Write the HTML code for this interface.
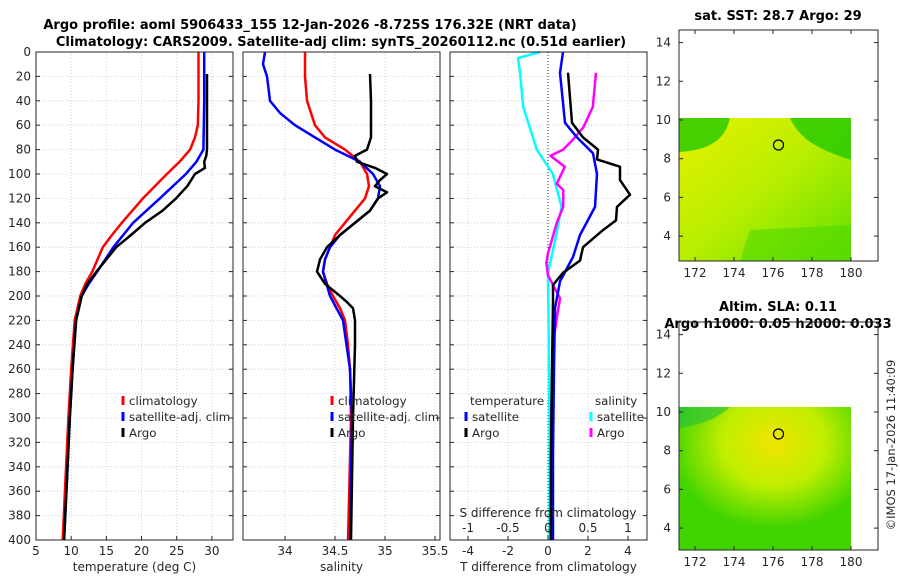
<!DOCTYPE html>
<html><head><meta charset="utf-8"><style>
body{margin:0;background:#fff;}
svg{font-family:"DejaVu Sans","Liberation Sans",sans-serif;}
</style></head><body>
<svg id="c" width="900" height="580" xmlns="http://www.w3.org/2000/svg">
<defs>
<linearGradient id="m1" x1="0" y1="0" x2="1" y2="1">
<stop offset="0" stop-color="#e8f000"/><stop offset="0.5" stop-color="#b8ee00"/><stop offset="1" stop-color="#60e000"/></linearGradient>
<radialGradient id="m2" cx="0.55" cy="0.25" r="0.6"><stop offset="0" stop-color="#f0e400"/><stop offset="0.5" stop-color="#c0ee00"/><stop offset="1" stop-color="#40d400"/></radialGradient>
</defs>
<text x="310" y="29" text-anchor="middle" font-weight="bold" font-size="13">Argo profile: aoml 5906433_155 12-Jan-2026 -8.725S 176.32E (NRT data)</text>
<text x="341" y="46" text-anchor="middle" font-weight="bold" font-size="13">Climatology: CARS2009. Satellite-adj clim: synTS_20260112.nc (0.51d earlier)</text>
<g id="maps">
<text x="778" y="20" text-anchor="middle" font-weight="bold" font-size="13">sat. SST: 28.7 Argo: 29</text>
<rect x="679" y="118" width="172" height="143" fill="url(#m1)"/>
<path d="M679,118 L851,118 L851,160 C820,150 800,140 790,118 Z" fill="#20c800" opacity="0.8"/>
<path d="M679,118 L730,118 C725,140 710,150 679,152 Z" fill="#20c800" opacity="0.8"/>
<path d="M750,230 L851,225 L851,261 L740,261 Z" fill="#50d800" opacity="0.6"/>
<circle cx="778.5" cy="145" r="5" fill="none" stroke="#000" stroke-width="1.2"/>
<rect x="679" y="30" width="199" height="231" fill="none" stroke="#262626"/>
<text x="778" y="311" text-anchor="middle" font-weight="bold" font-size="13">Altim. SLA: 0.11</text>
<text x="778" y="328" text-anchor="middle" font-weight="bold" font-size="13">Argo h1000: 0.05 h2000: 0.033</text>
<rect x="679" y="407" width="172" height="143" fill="url(#m2)"/>
<path d="M679,407 L730,407 C715,420 700,425 679,428 Z" fill="#20c040" opacity="0.6"/>
<circle cx="778.5" cy="434" r="5" fill="none" stroke="#000" stroke-width="1.2"/>
<rect x="679" y="322" width="199" height="228" fill="none" stroke="#262626"/>
<text transform="translate(895,445) rotate(-90)" text-anchor="middle" font-size="11.5" fill="#262626">©IMOS 17-Jan-2026 11:40:09</text>
</g>
</svg>
<script>
const depthTicks=[0,20,40,60,80,100,120,140,160,180,200,220,240,260,280,300,320,340,360,380,400];
const tTicks=[5,10,15,20,25,30];
const sTicks=[34,34.5,35,35.5];
const dTicks=[-4,-2,0,2,4];
const dsTickLabels=["-1","-0.5","0","0.5","1"];
const climTdep=[0,20,40,60,70,80,90,100,120,140,150,160,180,190,200,220,260,300,350,400];
const climT=[28.1,28.1,28.1,28.0,27.6,26.9,25.4,23.6,20.2,17.2,15.8,14.5,13.0,12.0,11.3,10.5,10.0,9.6,9.2,8.8];
const satTdep=[0,20,40,60,80,90,100,120,140,160,180,190,200,220,260,300,350,400];
const satT=[28.9,28.9,28.9,28.85,28.8,27.8,26.3,22.6,18.8,16.0,13.7,12.5,11.5,10.7,10.2,9.8,9.4,9.0];
const argoTdep=[18,40,60,80,85,90,95,100,110,120,130,140,150,160,170,180,190,200,220,260,300,350,400];
const argoT=[29.3,29.3,29.3,29.3,29.2,28.9,29.0,27.6,26.5,24.9,23.0,20.5,18.5,16.4,15.0,13.6,12.3,11.5,10.7,10.2,9.8,9.4,9.0];
const climSdep=[0,20,40,60,70,80,90,100,110,120,130,140,150,160,170,180,190,200,210,220,240,260,300,400];
const climS=[34.2,34.2,34.22,34.3,34.4,34.6,34.75,34.82,34.84,34.8,34.7,34.6,34.5,34.45,34.4,34.38,34.42,34.48,34.55,34.6,34.63,34.65,34.66,34.63];
const satSdep=[0,10,20,40,50,60,70,80,90,100,110,120,130,140,150,160,170,180,200,220,260,300,400];
const satS=[33.8,33.78,33.82,33.85,33.95,34.1,34.3,34.5,34.75,34.88,34.95,34.93,34.85,34.7,34.55,34.45,34.4,34.38,34.45,34.58,34.65,34.67,34.65];
const argoSdep=[18,40,70,80,85,90,95,100,105,110,115,120,130,140,150,160,170,180,190,200,205,210,220,240,300,400];
const argoS=[34.85,34.86,34.86,34.82,34.7,34.72,34.9,35.02,34.95,34.9,35.02,34.93,34.85,34.7,34.55,34.42,34.35,34.32,34.4,34.55,34.62,34.68,34.7,34.7,34.68,34.66];
const dSatTdep=[0,17,58,70,83,100,127,150,168,188,210,260,330,400];
const dSatT=[0.75,0.6,0.85,1.45,2.25,2.45,2.35,1.6,1.25,0.6,0.35,0.3,0.25,0.25];
const dArgoTdep=[17,58,70,80,88,94,105,117,127,138,146,160,171,181,191,206,260,330,400];
const dArgoT=[1.0,1.2,1.75,2.5,2.45,3.6,3.6,4.1,3.45,3.4,2.75,1.75,1.6,0.75,0.25,0.25,0.2,0.15,0.15];
const dSatSdep=[0,5,17,45,80,100,127,154,181,240,320,400];
const dSatS=[-0.1,-0.375,-0.35,-0.31,-0.14,0.06,0.17,0.09,0.0,0.01,0.02,0.02];
const dArgoSdep=[17,45,62,72,80,85,94,108,113,127,140,165,173,183,202,218,240,300,400];
const dArgoS=[0.6,0.56,0.44,0.31,0.19,0.03,0.21,0.11,0.19,0.19,0.11,0.0,-0.02,0.0,0.15,0.11,0.06,0.04,0.03];
const mapXTicks=[172,174,176,178,180];
const mapYTicks=[4,6,8,10,12,14];

const svg=document.getElementById('c');
const NS='http://www.w3.org/2000/svg';
function mk(tag,at,parent){const e=document.createElementNS(NS,tag);for(const k in at)e.setAttribute(k,at[k]);(parent||svg).appendChild(e);return e;}
const Y0=52,Y1=540;
const yD=d=>Y0+d/400*(Y1-Y0);
const panels=[
 {x0:36,x1:233,lo:5,hi:33,ticks:tTicks,label:'temperature (deg C)',name:'temperature-panel'},
 {x0:243,x1:440,lo:33.58,hi:35.55,ticks:sTicks,label:'salinity',name:'salinity-panel'},
 {x0:450,x1:647,lo:-4.9,hi:4.95,ticks:dTicks,label:'T difference from climatology',name:'difference-panel'}];
panels.forEach((p,i)=>{
 p.f=v=>p.x0+(v-p.lo)/(p.hi-p.lo)*(p.x1-p.x0);
 const g=mk('g',{});
 
 
 p.g=g;
 depthTicks.forEach(d=>{
  if(d>0&&d<400){const l=mk('line',{x1:p.x0,x2:p.x1,y1:yD(d),y2:yD(d),stroke:'#b8c4e8','stroke-width':0.8,'stroke-dasharray':'1,2'},g);
  }
  mk('line',{x1:p.x0,x2:p.x0+4,y1:yD(d),y2:yD(d),stroke:'#262626'},g);
  mk('line',{x1:p.x1,x2:p.x1-4,y1:yD(d),y2:yD(d),stroke:'#262626'},g);
  if(i==0){const t=mk('text',{x:31,y:yD(d)+4,'text-anchor':'end','font-size':12,fill:'#262626'},g);t.textContent=d;
  }
 });
 p.ticks.forEach(v=>{const x=p.f(v);
  mk('line',{x1:x,x2:x,y1:Y0,y2:Y1,stroke:'#e8b8c8','stroke-width':0.8,'stroke-dasharray':'1,2'},g);
  mk('line',{x1:x,x2:x,y1:Y1,y2:Y1-4,stroke:'#262626'},g);
  const t=mk('text',{x:x,y:555,'text-anchor':'middle','font-size':12,fill:'#262626'},g);t.textContent=v;
  
 });
 const xl=mk('text',{x:(p.x0+p.x1)/2,y:571,'text-anchor':'middle','font-size':12,fill:'#262626'},g);xl.textContent=p.label;
 
});
const P3=panels[2];
mk('line',{x1:P3.f(0),x2:P3.f(0),y1:Y0,y2:Y1,stroke:'#333','stroke-width':1,'stroke-dasharray':'1,2'},P3.g);
function line(p,xs,ds,col,name,conv){
 const pts=xs.map((v,i)=>(conv?p.f(conv(v)):p.f(v)).toFixed(1)+','+yD(ds[i]).toFixed(1)).join(' ');
 const e=mk('polyline',{points:pts,fill:'none',stroke:col,'stroke-width':2.5,'stroke-linejoin':'round'},p.g);
 
 
}
const P1=panels[0],P2=panels[1];
line(P1,climT,climTdep,'#ff0000','climatology-temperature-line');
line(P1,satT,satTdep,'#0000ff','satellite-temperature-line');
line(P1,argoT,argoTdep,'#000','argo-temperature-line');
line(P2,climS,climSdep,'#ff0000','climatology-salinity-line');
line(P2,satS,satSdep,'#0000ff','satellite-salinity-line');
line(P2,argoS,argoSdep,'#000','argo-salinity-line');
const s4=v=>v*4;
line(P3,dSatS,dSatSdep,'#00ffff','satellite-salinity-diff-line',s4);
line(P3,dArgoS,dArgoSdep,'#ff00ff','argo-salinity-diff-line',s4);
line(P3,dSatT,dSatTdep,'#0000ff','satellite-temperature-diff-line');
line(P3,dArgoT,dArgoTdep,'#000','argo-temperature-diff-line');
dsTickLabels.forEach((l,i)=>{const t=mk('text',{x:P3.f(dTicks[i]),y:532,'text-anchor':'middle','font-size':12,fill:'#262626'},P3.g);t.textContent=l;
 });
const st=mk('text',{x:548,y:517,'text-anchor':'middle','font-size':12,fill:'#262626'},P3.g);st.textContent='S difference from climatology';

function leg(x,y,col,txt,g){
 mk('line',{x1:x,x2:x,y1:y-9,y2:y,stroke:col,'stroke-width':3},g);
 const t=mk('text',{x:x+6,y:y,'font-size':11.8,fill:'#262626'},g);t.textContent=txt;
 
}
[[P1,123],[P2,332]].forEach(([p,x])=>{
 leg(x,405,'#ff0000','climatology',p.g);leg(x,421,'#0000ff','satellite-adj. clim',p.g);leg(x,437,'#000','Argo',p.g);});
let t=mk('text',{x:470,y:405,'font-size':11.8,fill:'#262626'},P3.g);t.textContent='temperature';

t=mk('text',{x:595,y:405,'font-size':11.8,fill:'#262626'},P3.g);t.textContent='salinity';

leg(466,421,'#0000ff','satellite',P3.g);leg(466,437,'#000','Argo',P3.g);
leg(591,421,'#00ffff','satellite',P3.g);leg(591,437,'#ff00ff','Argo',P3.g);
panels.forEach(p=>mk('rect',{x:p.x0,y:Y0,width:p.x1-p.x0,height:Y1-Y0,fill:'none',stroke:'#262626'},p.g));
const mg=document.getElementById('maps');
const mx=v=>695+(v-172)*19.5;
[[30,261,120,38.7],[322,550,412,38.7]].forEach(([top,bot,y10,s])=>{
 const my=v=>y10-(v-10)/2*s;
 mapXTicks.forEach(v=>{mk('line',{x1:mx(v),x2:mx(v),y1:bot,y2:bot-4,stroke:'#262626'},mg);mk('line',{x1:mx(v),x2:mx(v),y1:top,y2:top+4,stroke:'#262626'},mg);
  const t=mk('text',{x:mx(v),y:bot+16,'text-anchor':'middle','font-size':12,fill:'#262626'},mg);t.textContent=v;
  });
 mapYTicks.forEach(v=>{const y=my(v);if(y<top||y>bot)return;
  mk('line',{x1:679,x2:683,y1:y,y2:y,stroke:'#262626'},mg);mk('line',{x1:878,x2:874,y1:y,y2:y,stroke:'#262626'},mg);
  const t=mk('text',{x:671,y:y+4,'text-anchor':'end','font-size':12,fill:'#262626'},mg);t.textContent=v;
  });
});
</script>
</body></html>
